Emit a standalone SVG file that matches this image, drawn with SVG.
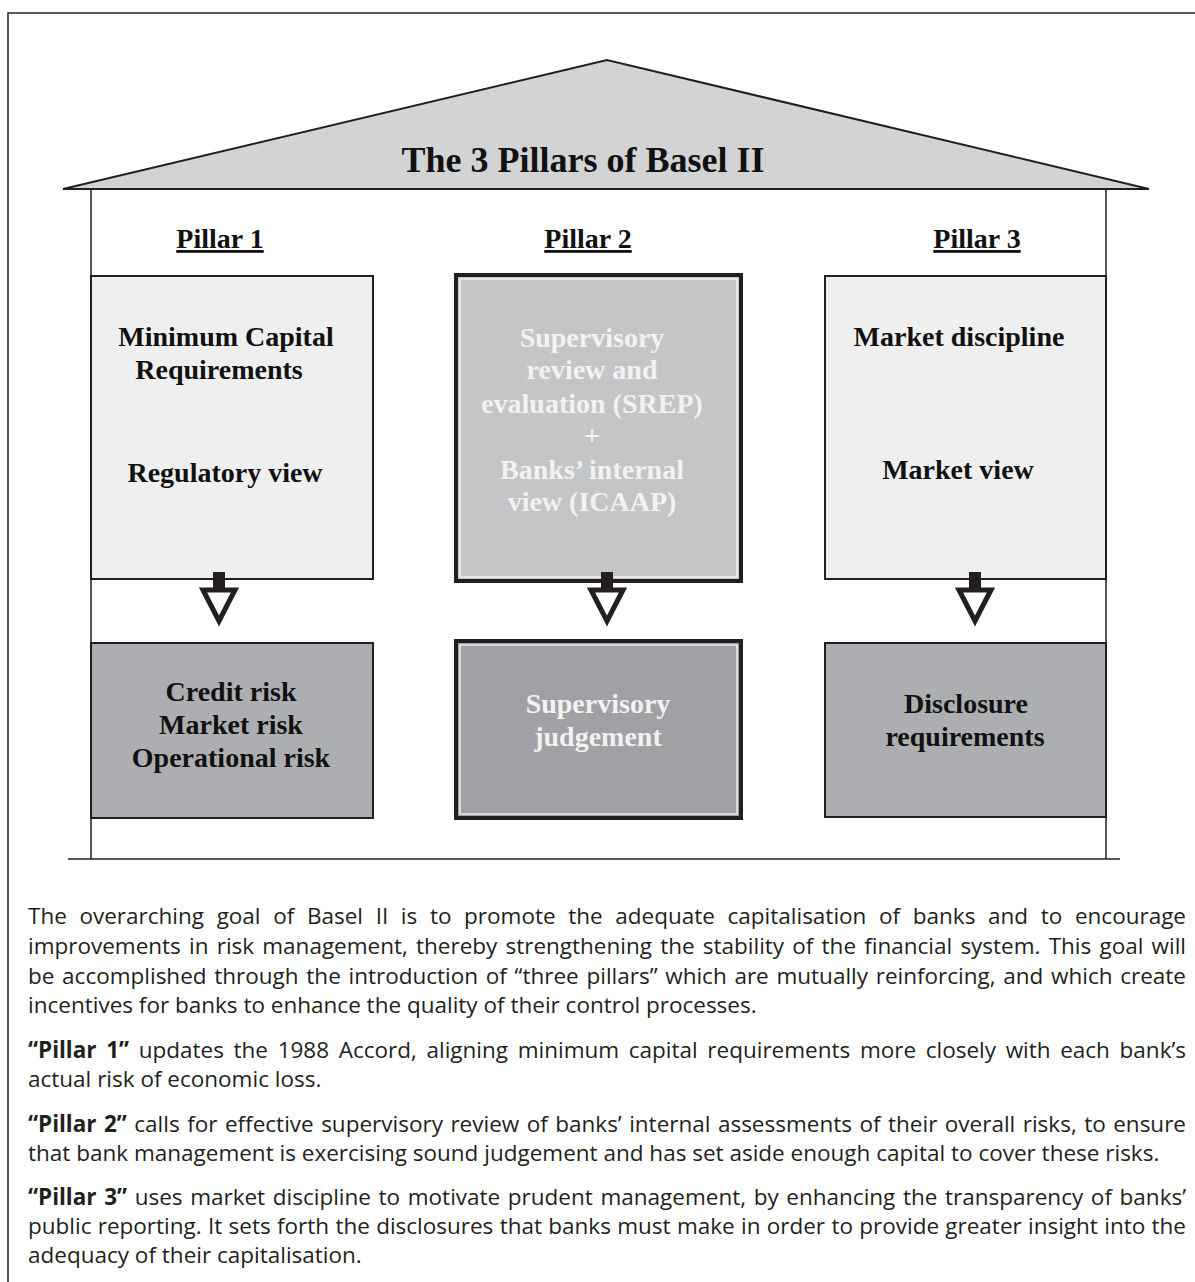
<svg xmlns="http://www.w3.org/2000/svg" width="1195" height="1282" viewBox="0 0 1195 1282">
<style>
.ln{stroke:#231f20;stroke-width:1.5;fill:none}
.hd{font-family:"Liberation Serif","Times New Roman",serif;font-weight:bold;font-size:28px;fill:#111;text-anchor:middle}
.bx{font-family:"Liberation Serif","Times New Roman",serif;font-weight:bold;font-size:28px;fill:#111;text-anchor:middle}
.wt{fill:#f2f2f2}
.box{stroke:#231f20;stroke-width:2}
.p{font-family:"Open Sans","Noto Sans",sans-serif;font-size:22.5px;fill:#231f20}
.b{font-weight:bold}
.stem{fill:#231f20}
.tri{fill:#fff;stroke:#231f20;stroke-width:5;stroke-linejoin:miter}
</style>
<rect width="1195" height="1282" fill="#fff"/>
<g id="frame">
<path class="ln" d="M8,1282 V13 H1195"/>
</g>
<g id="house">
<polygon points="63,189 607,60 1149,189" fill="#d1d3d4" stroke="#231f20" stroke-width="2"/>
<path class="ln" d="M91,189 V859 M1106,189 V859 M68,859 H1120"/>
<text class="hd" x="583" y="172" style="font-size:36px">The 3 Pillars of Basel  II</text>
</g>
<g id="headers">
<text class="hd" x="220" y="248" text-decoration="underline">Pillar 1</text>
<text class="hd" x="588" y="248" text-decoration="underline">Pillar 2</text>
<text class="hd" x="977" y="248" text-decoration="underline">Pillar 3</text>
</g>
<g id="p1-top">
<rect class="box" x="91" y="276" width="282" height="303" fill="#efefef"/>
<text class="bx" x="226" y="346">Minimum Capital</text>
<text class="bx" x="219" y="379">Requirements</text>
<text class="bx" x="225" y="482">Regulatory view</text>
</g>
<g id="p2-top">
<rect x="456" y="275" width="285" height="306" fill="#c4c5c7" stroke="#231f20" stroke-width="4"/>
<rect x="460" y="279" width="277" height="298" fill="none" stroke="#fff" stroke-width="1.2"/>
<text class="bx wt" x="592" y="347">Supervisory</text>
<text class="bx wt" x="592" y="379">review and</text>
<text class="bx wt" x="592" y="413">evaluation (SREP)</text>
<text class="bx wt" x="592" y="445">+</text>
<text class="bx wt" x="592" y="479">Banks’ internal</text>
<text class="bx wt" x="592" y="511">view (ICAAP)</text>
</g>
<g id="p3-top">
<rect class="box" x="825" y="276" width="281" height="303" fill="#efefef"/>
<text class="bx" x="959" y="346">Market discipline</text>
<text class="bx" x="958" y="479">Market view</text>
</g>
<g id="p1-bottom">
<rect class="box" x="91" y="643" width="282" height="175" fill="#adaeb1"/>
<text class="bx" x="231" y="701">Credit risk</text>
<text class="bx" x="231" y="734">Market risk</text>
<text class="bx" x="231" y="767">Operational risk</text>
</g>
<g id="p2-bottom">
<rect x="456" y="641" width="285" height="177" fill="#a0a1a4" stroke="#231f20" stroke-width="4"/>
<rect x="460" y="645" width="277" height="169" fill="none" stroke="#fff" stroke-width="1.2"/>
<text class="bx wt" x="598" y="713">Supervisory</text>
<text class="bx wt" x="598" y="746">judgement</text>
</g>
<g id="p3-bottom">
<rect class="box" x="825" y="643" width="281" height="174" fill="#adaeb1"/>
<text class="bx" x="966" y="713">Disclosure</text>
<text class="bx" x="965" y="746">requirements</text>
</g>
<g id="connectors">
<rect class="stem" x="213" y="572" width="12" height="18"/>
<polygon class="tri" points="203,590 235,590 219,621"/>
<rect class="stem" x="601" y="572" width="12" height="18"/>
<polygon class="tri" points="591,590 623,590 607,621"/>
<rect class="stem" x="969" y="572" width="12" height="18"/>
<polygon class="tri" points="959,590 991,590 975,621"/>
</g>
<g id="text">
<text class="p" x="28" y="924" word-spacing="6.8" textLength="1158" lengthAdjust="spacing">The overarching goal of Basel II is to promote the adequate capitalisation of banks and to encourage</text>
<text class="p" x="28" y="954" word-spacing="2.36" textLength="1158" lengthAdjust="spacing">improvements in risk management, thereby strengthening the stability of the financial system. This goal will</text>
<text class="p" x="28" y="984" word-spacing="1.86" textLength="1158" lengthAdjust="spacing">be accomplished through the introduction of “three pillars” which are mutually reinforcing, and which create</text>
<text class="p" x="28" y="1013">incentives for banks to enhance the quality of their control processes.</text>
<text class="p" x="28" y="1058" word-spacing="3.79" textLength="1158" lengthAdjust="spacing"><tspan class="b">“Pillar 1”</tspan> updates the 1988 Accord, aligning minimum capital requirements more closely with each bank’s</text>
<text class="p" x="28" y="1087">actual risk of economic loss.</text>
<text class="p" x="28" y="1132" word-spacing="1.63" textLength="1158" lengthAdjust="spacing"><tspan class="b">“Pillar 2”</tspan> calls for effective supervisory review of banks’ internal assessments of their overall risks, to ensure</text>
<text class="p" x="28" y="1161">that bank management is exercising sound judgement and has set aside enough capital to cover these risks.</text>
<text class="p" x="28" y="1205" word-spacing="1.79" textLength="1158" lengthAdjust="spacing"><tspan class="b">“Pillar 3”</tspan> uses market discipline to motivate prudent management, by enhancing the transparency of banks’</text>
<text class="p" x="28" y="1234" word-spacing="0.5" textLength="1158" lengthAdjust="spacing">public reporting. It sets forth the disclosures that banks must make in order to provide greater insight into the</text>
<text class="p" x="28" y="1263">adequacy of their capitalisation.</text>
</g>
</svg>
